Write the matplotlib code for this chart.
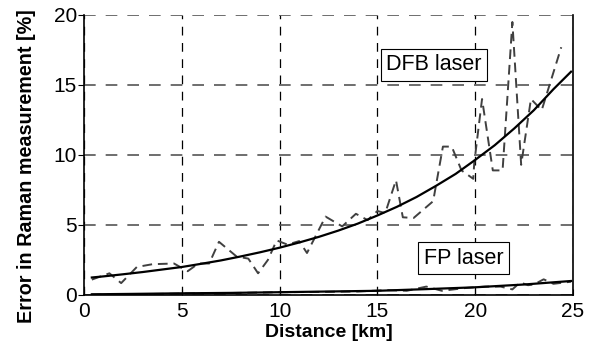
import numpy as np
import matplotlib
matplotlib.use('Agg')
import matplotlib.pyplot as plt

plt.rcParams['font.family'] = ['Liberation Sans', 'DejaVu Sans']

# DFB laser, measured error (dashed)
dfb_x = [0.4, 1.3, 1.9, 2.7, 3.5, 4.6, 5.3, 5.85, 6.4, 6.9, 7.8, 8.4, 8.9, 9.4, 9.85,
         10.4, 11.0, 11.4, 12.35, 13.2, 13.9, 14.5, 15.0, 15.4, 15.95, 16.3, 16.85,
         17.85, 18.35, 18.8, 19.3, 19.9, 19.95, 20.35, 20.9, 21.4, 21.9, 22.35, 22.85,
         23.4, 24.4]
dfb_y = [1.1, 1.55, 0.85, 2.0, 2.2, 2.25, 1.7, 2.25, 2.25, 3.8, 2.75, 2.6, 1.55, 2.5, 3.9,
         3.6, 3.85, 3.0, 5.6, 4.9, 5.8, 5.35, 6.0, 5.85, 8.2, 5.55, 5.5,
         6.7, 10.6, 10.6, 8.9, 8.3, 9.4, 14.0, 8.9, 8.9, 19.5, 9.3, 14.0,
         13.2, 17.7]

# DFB laser, fitted curve (solid)
dfb_fit_x = [0.4, 1, 2, 3, 4, 5, 6, 7, 8, 9, 10, 11, 12, 13, 14, 15, 16, 17, 18, 19,
             20, 21, 22, 23, 24, 24.9]
dfb_fit_y = [1.25, 1.33, 1.48, 1.64, 1.82, 2.0, 2.23, 2.47, 2.75, 3.05, 3.38, 3.75,
             4.15, 4.6, 5.1, 5.68, 6.3, 7.0, 7.8, 8.65, 9.65, 10.7, 11.9, 13.2, 14.7, 15.95]

# FP laser, measured error (dashed)
fp_x = [0.4, 2, 4, 6, 8, 10, 12, 14, 15.5, 16.5, 17.5, 18.3, 19.5, 20.5, 21.3, 21.9,
        22.3, 22.7, 23.0, 23.5, 24.0, 24.9]
fp_y = [0.03, 0.05, 0.08, 0.12, 0.15, 0.2, 0.22, 0.25, 0.35, 0.3, 0.6, 0.3, 0.5, 0.6,
        0.6, 0.4, 0.9, 0.7, 0.75, 1.12, 0.8, 0.95]

# FP laser, fitted curve (solid)
fp_fit_x = [0.4, 2.5, 5, 7.5, 10, 12.5, 15, 17.5, 20, 22.5, 24.9]
fp_fit_y = [0.05, 0.08, 0.12, 0.15, 0.2, 0.25, 0.3, 0.42, 0.55, 0.75, 1.0]

fig = plt.figure(figsize=(5.97, 3.54), dpi=100)
ax = fig.add_axes([84 / 597, 59 / 354, 489 / 597, 280 / 354])

ax.plot(dfb_x, dfb_y, color='#404040', linestyle=(0, (5, 3)), linewidth=1.4)
ax.plot(dfb_fit_x, dfb_fit_y, color='black', linewidth=1.6)
ax.plot(fp_x, fp_y, color='#404040', linestyle=(0, (5, 3)), linewidth=1.4)
ax.plot(fp_fit_x, fp_fit_y, color='black', linewidth=1.6)

ax.set_xlim(0, 25)
ax.set_ylim(0, 20)
ax.set_xticks([0, 5, 10, 15, 20, 25])
ax.set_yticks([0, 5, 10, 15, 20])
ax.tick_params(axis='x', direction='in', length=4, labelsize=15, pad=5)
ax.tick_params(axis='y', direction='out', length=4, labelsize=15, pad=1)

ax.xaxis.grid(True, color='black', linestyle=(0, (7, 6)), linewidth=0.9)
ax.yaxis.grid(True, color='#555555', linestyle=(0, (7, 6)), linewidth=1.2)
ax.spines['top'].set_visible(False)
for s in ['left', 'bottom', 'right']:
    ax.spines[s].set_linewidth(1.2)

ax.set_xlabel('Distance [km]', fontsize=14, fontweight='bold', labelpad=2)
ax.set_ylabel('Error in Raman measurement [%]', fontsize=14.2, fontweight='bold')
ax.yaxis.set_label_coords(-0.098, 0.46)

box = dict(boxstyle='square,pad=0.25', facecolor='white', edgecolor='black', linewidth=0.8)
ax.text(17.9, 16.45, 'DFB laser', fontsize=15.5, ha='center', va='center', bbox=box)
ax.text(19.4, 2.62, 'FP laser', fontsize=15.5, ha='center', va='center', bbox=box)

plt.savefig('out.png', dpi=100)
